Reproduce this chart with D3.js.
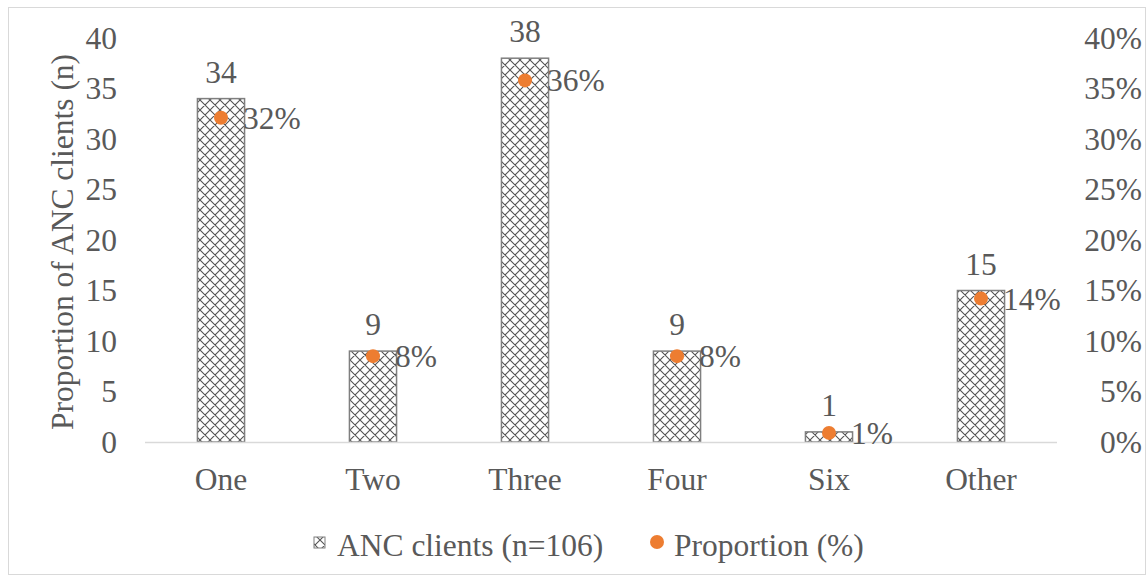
<!DOCTYPE html>
<html><head><meta charset="utf-8">
<script src="https://cdn.jsdelivr.net/npm/d3@7"></script>
<style>body{margin:0;background:#fff}svg{display:block}</style>
</head><body>
<svg id="c" width="1147" height="576"></svg>
<script>
const categories = ["One","Two","Three","Four","Six","Other"];
const clients = [34,9,38,9,1,15];
const proportion = [32.1,8.5,35.8,8.5,0.9,14.2];
const propLabels = ["32%","8%","36%","8%","1%","14%"];
const leftTicks = [0,5,10,15,20,25,30,35,40];
const rightTicks = [0,5,10,15,20,25,30,35,40];

const FONT = "'Liberation Serif', 'Times New Roman', serif";
const FS = 31.5;
const svg = d3.select("#c");
const m = {l:145, r:1057, t:38, b:442};
svg.append("rect").attr("x",8.5).attr("y",7.5).attr("width",1137).attr("height",567)
  .attr("fill","#fff").attr("stroke","#d9d9d9");

const defs = svg.append("defs");
const P = 10;
const pat = defs.append("pattern").attr("id","hatch").attr("patternUnits","userSpaceOnUse")
  .attr("width",P).attr("height",P);
pat.append("rect").attr("width",P).attr("height",P).attr("fill","#fff");
pat.append("path").attr("d",`M0,0L${P},${P}M${P},0L0,${P}M-1,${P-1}L1,${P+1}M${P-1},-1L${P+1},1M-1,1L1,-1M${P-1},${P+1}L${P+1},${P-1}`)
  .attr("stroke","#555").attr("stroke-width",1.1);

const x = d3.scaleBand().domain(categories).range([m.l,m.r]).paddingInner(0.69).paddingOuter(0.345);
const y = d3.scaleLinear().domain([0,40]).range([m.b,m.t]);
const y2 = d3.scaleLinear().domain([0,40]).range([m.b,m.t]);

function styleAxis(g){
  g.attr("font-family",null);
  g.select(".domain").remove();
  g.selectAll("text").attr("font-size",FS).style("font-family",FONT).attr("fill","#595959").attr("dy","0.33em");
}
const la = svg.append("g").attr("transform",`translate(117,0)`)
  .call(d3.axisLeft(y).tickValues(leftTicks).tickSize(0).tickPadding(0));
styleAxis(la);
const ra = svg.append("g").attr("transform",`translate(1142,0)`)
  .call(d3.axisLeft(y2).tickValues(rightTicks).tickSize(0).tickPadding(0).tickFormat(d=>d+"%"));
styleAxis(ra);

svg.selectAll(".bar").data(categories).enter().append("rect")
  .attr("x",d=>x(d)).attr("y",(d,i)=>y(clients[i]))
  .attr("width",x.bandwidth()).attr("height",(d,i)=>y(0)-y(clients[i]))
  .attr("fill","url(#hatch)").attr("stroke","#7f7f7f").attr("stroke-width",1.5);

svg.append("line").attr("x1",m.l).attr("x2",m.r).attr("y1",y(0)+0.5).attr("y2",y(0)+0.5)
  .attr("stroke","#d9d9d9").attr("stroke-width",1.5);

const T = (sel)=>sel.style("font-family",FONT).attr("fill","#595959").attr("font-size",FS);

T(svg.selectAll(".bl").data(categories).enter().append("text"))
  .attr("x",d=>x(d)+x.bandwidth()/2).attr("y",(d,i)=>y(clients[i])-16)
  .attr("text-anchor","middle").text((d,i)=>clients[i]);

T(svg.selectAll(".cl").data(categories).enter().append("text"))
  .attr("x",d=>x(d)+x.bandwidth()/2).attr("y",490)
  .attr("text-anchor","middle").text(d=>d);

svg.selectAll(".dot").data(categories).enter().append("circle")
  .attr("cx",d=>x(d)+x.bandwidth()/2).attr("cy",(d,i)=>y2(proportion[i]))
  .attr("r",7).attr("fill","#ED7D31");
T(svg.selectAll(".pl").data(categories).enter().append("text"))
  .attr("x",d=>x(d)+x.bandwidth()/2+22).attr("y",(d,i)=>y2(proportion[i])+11)
  .text((d,i)=>propLabels[i]);

T(svg.append("text")).attr("transform","translate(73,242) rotate(-90)")
  .attr("text-anchor","middle").text("Proportion of ANC clients (n)");

svg.append("rect").attr("x",314).attr("y",537).attr("width",11).attr("height",11)
  .attr("fill","url(#hatch)").attr("stroke","#7f7f7f");
T(svg.append("text")).attr("x",337).attr("y",556).text("ANC clients (n=106)");
svg.append("circle").attr("cx",657).attr("cy",542).attr("r",7).attr("fill","#ED7D31");
T(svg.append("text")).attr("x",674).attr("y",556).text("Proportion (%)");
</script>
</body></html>
